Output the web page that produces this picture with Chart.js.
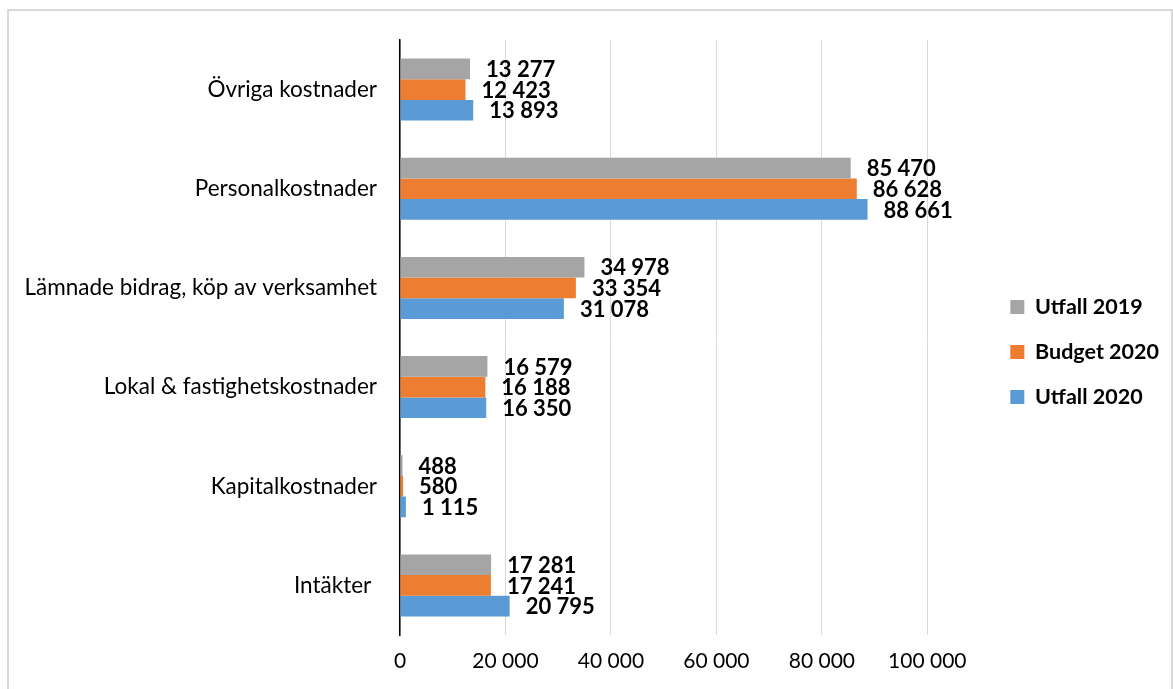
<!DOCTYPE html>
<html>
<head>
<meta charset="utf-8">
<script src="https://cdn.jsdelivr.net/npm/chart.js@4.4.1/dist/chart.umd.min.js"></script>
<style>
  html, body { margin: 0; padding: 0; background: #fff; overflow: hidden; }
  #frame { position: absolute; left: 7px; top: 9px; width: 1162px; height: 700px; border: 2px solid #d9d9d9; }
  #wrap { position: absolute; left: 0; top: 0; width: 1173px; height: 689px; }
</style>
</head>
<body>
<div id="frame"></div>
<div id="wrap"><canvas id="chart" width="1173" height="689"></canvas></div>
<script>
const categories = ['Övriga kostnader', 'Personalkostnader', 'Lämnade bidrag, köp av verksamhet',
  'Lokal & fastighetskostnader', 'Kapitalkostnader', 'Intäkter '];
const utfall2019 = [13277, 85470, 34978, 16579, 488, 17281];
const budget2020 = [12423, 86628, 33354, 16188, 580, 17241];
const utfall2020 = [13893, 88661, 31078, 16350, 1115, 20795];
const xTicks = [0, 20000, 40000, 60000, 80000, 100000];

const FONT = 'Lato, "Open Sans", sans-serif';

function fmt(v) {
  return String(Math.round(v)).replace(/\B(?=(\d{3})+(?!\d))/g, ' ');
}

// value labels at the end of each bar
const barLabels = {
  id: 'barLabels',
  afterDatasetsDraw(chart) {
    const ctx = chart.ctx;
    ctx.save();
    ctx.font = 'bold 22px ' + FONT;
    ctx.fillStyle = '#000';
    ctx.textAlign = 'left';
    ctx.textBaseline = 'middle';
    chart.data.datasets.forEach((ds, i) => {
      const meta = chart.getDatasetMeta(i);
      meta.data.forEach((bar, j) => {
        ctx.fillText(fmt(ds.data[j]), bar.x + 16, bar.y + 1);
      });
    });
    ctx.restore();
  }
};

new Chart(document.getElementById('chart'), {
  type: 'bar',
  data: {
    labels: categories,
    datasets: [
      { label: 'Utfall 2019', data: utfall2019, backgroundColor: '#a5a5a5' },
      { label: 'Budget 2020', data: budget2020, backgroundColor: '#ed7d31' },
      { label: 'Utfall 2020', data: utfall2020, backgroundColor: '#5b9bd5' }
    ]
  },
  options: {
    indexAxis: 'y',
    responsive: false,
    animation: false,
    categoryPercentage: 0.625,
    barPercentage: 1.0,
    layout: { padding: { left: 0, top: 40, right: 4, bottom: 0 } },
    scales: {
      x: {
        min: 0,
        max: 100000,
        afterBuildTicks: s => { s.ticks = xTicks.map(v => ({ value: v })); },
        afterFit: s => { s.height = 54; },
        grid: { color: '#d9d9d9', lineWidth: 1, drawTicks: false },
        border: { display: false },
        ticks: { padding: 14, color: '#000', font: { family: FONT, size: 21 }, callback: v => fmt(v) }
      },
      y: {
        grid: { display: false, drawTicks: false },
        border: { display: true, color: '#000', width: 1.5 },
        ticks: { padding: 23, color: '#000', font: { family: FONT, size: 22.5 } },
        afterFit: s => { s.width = 400; }
      },
      pad: {
        type: 'linear',
        axis: 'y',
        position: 'right',
        grid: { display: false, drawTicks: false },
        border: { display: false },
        ticks: { display: false },
        afterFit: s => { s.width = 59.5; }
      }
    },
    plugins: {
      legend: {
        position: 'right',
        fullSize: false,
        title: { display: true, text: '', font: { size: 10, lineHeight: 1 }, padding: { top: 19, bottom: 0 } },
        labels: {
          boxWidth: 14,
          boxHeight: 14,
          padding: 23.5,
          color: '#000',
          font: { family: FONT, size: 21.5, weight: 'bold' }
        }
      },
      tooltip: { enabled: false }
    }
  },
  plugins: [barLabels]
});
</script>
</body>
</html>
